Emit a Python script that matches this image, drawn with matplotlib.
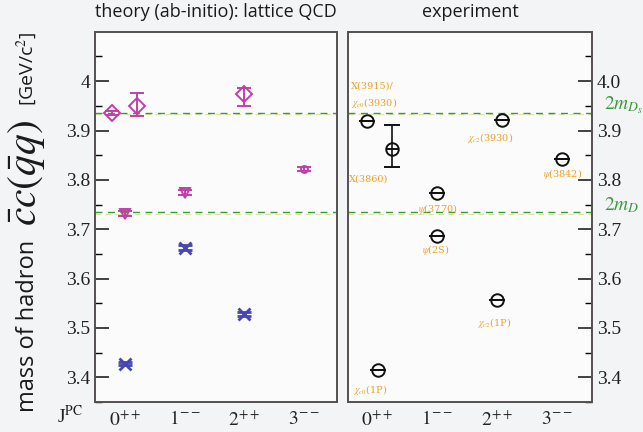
import matplotlib
matplotlib.use('agg')
import matplotlib.pyplot as plt
import numpy as np

plt.rcParams['mathtext.fontset'] = 'stix'

# theory (lattice QCD), magenta points
mag_x = [-0.22, 0.2, 0.0, 1.0, 2.0, 3.0]
mag_y = [3.935, 3.950, 3.731, 3.774, 3.974, 3.822]
mag_lo = [0.004, 0.020, 0.005, 0.005, 0.024, 0.005]
mag_hi = [0.004, 0.026, 0.005, 0.005, 0.012, 0.005]
mag_mk = ['D', 'D', 'v', 'v', 'D', 'o']

# theory, blue points
blue_x = [0.0, 1.0, 2.0]
blue_y = [3.428, 3.663, 3.529]
blue_err = [0.004, 0.006, 0.004]

# experiment
exp_names = ['X(3915)', 'X(3860)', r'$\chi_{c0}$(1P)', r'$\psi$(3770)', r'$\psi$(2S)',
             r'$\chi_{c2}$(3930)', r'$\chi_{c2}$(1P)', r'$\psi$(3842)']
exp_x = [-0.17, 0.25, 0.02, 1.0, 1.0, 2.08, 2.0, 3.08]
exp_y = [3.920, 3.862, 3.414, 3.773, 3.686, 3.922, 3.556, 3.842]
exp_lo = [0, 0.036, 0, 0, 0, 0, 0, 0]
exp_hi = [0, 0.050, 0, 0, 0, 0, 0, 0]

thresholds = [3.936, 3.734]   # 2m_Ds, 2m_D
jpc = [r'$0^{++}$', r'$1^{--}$', r'$2^{++}$', r'$3^{--}$']

# label text placement (data coords of the right panel)
lab_text = [r'X(3915)/', r'$\chi_{c0}$(3930)', 'X(3860)', r'$\chi_{c2}$(3930)', r'$\psi$(3842)',
            r'$\psi$(3770)', r'$\psi$(2S)', r'$\chi_{c2}$(1P)', r'$\chi_{c0}$(1P)']
lab_x = [-0.43, -0.43, -0.47, 1.5, 2.77, 0.68, 0.75, 1.67, -0.40]
lab_y = [3.990, 3.956, 3.802, 3.885, 3.812, 3.741, 3.657, 3.511, 3.374]

magenta = '#c23fa8'
blue = '#4646b4'
green = '#3a9a3a'
orange = '#f0a020'
spine = '#555050'

fig = plt.figure(figsize=(6.43, 4.32), dpi=100, facecolor='#f3f4f6')
ax1 = fig.add_axes([0.1477, 0.0694, 0.376, 0.857])
ax2 = fig.add_axes([0.5412, 0.0694, 0.3795, 0.857])

for ax in (ax1, ax2):
    ax.set_facecolor('#fbfbfc')
    ax.set_ylim(3.35, 4.1)
    ax.set_yticks(np.arange(3.4, 4.01, 0.1))
    ax.set_yticks(np.arange(3.35, 4.1, 0.05), minor=True)
    ax.set_xticks(range(4))
    ax.set_xticklabels(jpc, fontsize=14, family='DejaVu Serif')
    ax.tick_params(axis='x', length=0, pad=6, colors='#222222')
    ax.tick_params(axis='y', direction='in', length=10, width=1.2, colors='#222222', labelsize=14)
    ax.tick_params(axis='y', which='minor', direction='in', length=5, width=1.0)
    for s in ax.spines.values():
        s.set_color(spine)
        s.set_linewidth(1.4)
    for t in thresholds:
        ax.axhline(t - 0.003, color='#d8e89a', lw=0.8, ls=(0, (5, 4)), zorder=1)
        ax.axhline(t, color=green, lw=1.0, ls=(0, (5, 4)), zorder=1)

ax1.set_xlim(-0.5, 3.55)
ax2.set_xlim(-0.48, 3.58)
ax1.yaxis.set_major_formatter(matplotlib.ticker.FuncFormatter(lambda v, p: '4' if abs(v - 4) < 1e-6 else f'{v:.1f}'))
ax2.yaxis.tick_right()
for ax in (ax1, ax2):
    for lb in ax.get_yticklabels():
        lb.set_family('Liberation Serif')

for x, y, lo, hi, mk in zip(mag_x, mag_y, mag_lo, mag_hi, mag_mk):
    ms = 8 if mk == 'D' else (7 if mk == 'v' else 5)
    ax1.errorbar(x, y, yerr=[[lo], [hi]], fmt=mk, ms=ms, mfc='none', mec=magenta, mew=1.4,
                 ecolor=magenta, elinewidth=1.4, capsize=5, capthick=1.4, zorder=3)

ax1.errorbar(blue_x, blue_y, yerr=blue_err, fmt='x', ms=8, mec=blue, mew=2, ecolor=blue,
             elinewidth=1.6, capsize=5, capthick=1.8, zorder=3)

ax2.errorbar(exp_x, exp_y, yerr=[exp_lo, exp_hi], fmt='o', ms=9, mfc='none', mec='#111111', mew=1.4,
             ecolor='#111111', elinewidth=1.2, capsize=6, capthick=1.2, zorder=3)
ax2.plot(exp_x, exp_y, '_', ms=8, mec='#111111', mew=1.4, zorder=4)

for t, x, y in zip(lab_text, lab_x, lab_y):
    ax2.text(x, y, t, color=orange, fontsize=7, family='DejaVu Serif', va='center', ha='left')

ax1.set_title('theory (ab-initio): lattice QCD', fontsize=13, family='Open Sans', pad=11, color='#1a1a1a')
ax2.set_title('experiment', fontsize=13, family='Open Sans', pad=11, color='#1a1a1a')

# y label in three pieces: text, large math, units
fig.text(28 / 643, 1 - 412 / 432, 'mass of hadron', rotation=90, fontsize=17,
         family='Open Sans', va='bottom', ha='center', color='#1a1a1a')
fig.text(26 / 643, 1 - 226 / 432, r'$\bar{c}c(\bar{q}q)$', rotation=90, fontsize=30,
         va='bottom', ha='center', color='#1a1a1a')
fig.text(27 / 643, 1 - 32 / 432, r'[GeV/c$^2$]', rotation=90, fontsize=14,
         family='Open Sans', va='top', ha='center', color='#1a1a1a')

fig.text(0.088, 0.02, r'J$^{\mathrm{PC}}$', fontsize=14, family='Liberation Serif', ha='left', color='#222222')

fig.text(0.94, 1 - 105 / 432, r'$2m_{D_s}$', color=green, fontsize=14, ha='left', va='center')
fig.text(0.94, 1 - 205 / 432, r'$2m_{D}$', color=green, fontsize=14, ha='left', va='center')

fig.savefig('out.png', dpi=100, facecolor=fig.get_facecolor())
